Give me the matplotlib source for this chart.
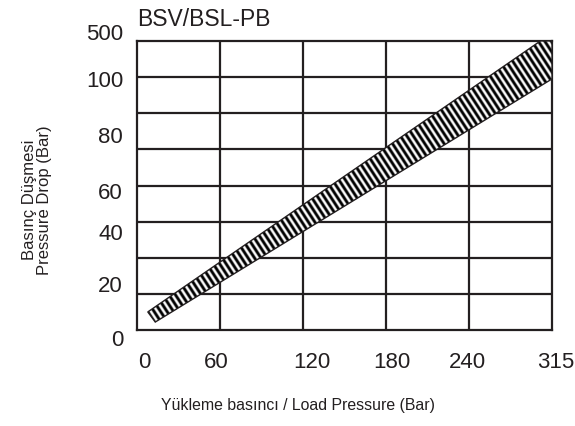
import numpy as np
import matplotlib
matplotlib.use("Agg")
import matplotlib.pyplot as plt
from matplotlib.patches import Polygon
from matplotlib import font_manager

names = {f.name for f in font_manager.fontManager.ttflist}
FONT = "Liberation Sans Narrow" if "Liberation Sans Narrow" in names else "Liberation Sans"
plt.rcParams['font.family'] = [FONT, 'DejaVu Sans']

# ---- data (grid units: 5 columns x 8 rows) ----
x_tick_labels = ["0", "60", "120", "180", "240", "315"]
x_tick_pos = [0.09, 0.95, 2.11, 3.07, 3.98, 5.04]
y_tick_labels = ["0", "20", "40", "60", "80", "100", "500"]
y_tick_pos = [-0.25, 1.22, 2.66, 3.82, 5.35, 6.92, 8.20]

band_upper_x = [0.13, 4.86, 5.0]
band_upper_y = [0.50, 8.0, 8.0]
band_lower_x = [0.22, 5.0]
band_lower_y = [0.22, 6.95]

title = "BSV/BSL-PB"
xlabel = "Yükleme basıncı / Load Pressure (Bar)"
ylabel = "Basınç Düşmesi\nPressure Drop (Bar)"

LINE = "#231f20"

fig = plt.figure(figsize=(5.75, 4.27), dpi=100)
ax = fig.add_axes([137/575, 1-331/427, 415/575, 289/427])
ax.set_xlim(0, 5)
ax.set_ylim(0, 8)
ax.set_xticks([])
ax.set_yticks([])
for v in range(1, 5):
    ax.axvline(v, color=LINE, lw=1.6, zorder=1)
for v in range(1, 8):
    ax.axhline(v, color=LINE, lw=1.6, zorder=1)
for s in ax.spines.values():
    s.set_color(LINE)
    s.set_linewidth(1.6)

# band polygon
poly_pts = list(zip(band_lower_x[:1], band_lower_y[:1])) + \
    list(zip(band_upper_x, band_upper_y)) + \
    list(zip(band_lower_x[::-1][:1], band_lower_y[::-1][:1]))
poly = Polygon(poly_pts, closed=True, facecolor="none", edgecolor=LINE, lw=1.0, zorder=4)
ax.add_patch(poly)

# striped fill
p0 = ax.transData.transform((0, 0))
p1 = ax.transData.transform((1, 1))
sx, sy = p1 - p0
cx0 = (band_upper_x[0] + band_lower_x[0]) / 2
cy0 = (band_upper_y[0] + band_lower_y[0]) / 2
cx1, cy1 = 5.0, (band_lower_y[-1] + 8.23) / 2
d = np.array([(cx1 - cx0) * sx, (cy1 - cy0) * sy])
d /= np.hypot(*d)
X, Y = np.meshgrid(np.linspace(0, 5, 1400), np.linspace(0, 8, 1400))
period = 5.4
phase = (X * sx * d[0] + Y * sy * d[1]) / period * 2 * np.pi
img = np.clip(0.40 + 0.95 * np.cos(phase), 0, 1)
im = ax.imshow(img, extent=[0, 5, 0, 8], origin="lower", cmap="gray",
               vmin=0, vmax=1, aspect="auto", zorder=3, interpolation="bilinear")
clip = Polygon(poly_pts, closed=True, transform=ax.transData)
im.set_clip_path(clip)

# tick labels
for p, t in zip(x_tick_pos, x_tick_labels):
    ax.text(p, -(363 - 331) / 289, t, transform=ax.get_xaxis_transform(), ha="center",
            va="center", fontsize=16, color="#231f20", clip_on=False)
for p, t in zip(y_tick_pos, y_tick_labels):
    ax.text(-14 / 415, p, t, transform=ax.get_yaxis_transform(), ha="right", va="center",
            fontsize=16, color="#231f20", clip_on=False)

fig.text(137/575, 1-19/427, title, ha="left", va="center", fontsize=16.5, color="#231f20")
fig.text(298/575, 1-406/427, xlabel, ha="center", va="center", fontsize=11.4, color="#231f20")
fig.text(37/575, 1-200/427, ylabel, ha="center", va="center", rotation=90,
         fontsize=12, color="#231f20", linespacing=1.0)

fig.savefig("out.png", dpi=100)
